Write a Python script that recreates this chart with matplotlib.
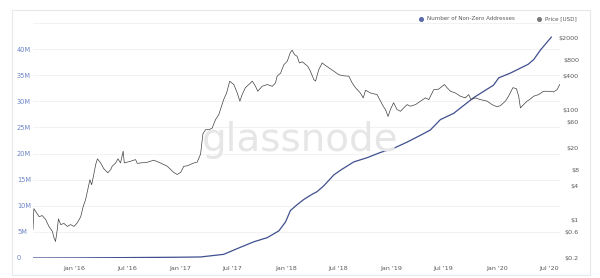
import matplotlib
matplotlib.use("Agg")
import matplotlib.pyplot as plt
import pandas as pd
from matplotlib.lines import Line2D
from matplotlib.patches import Rectangle

# --- data ------------------------------------------------------------------
addr_dates = ["2015-08-10", "2016-01-01", "2016-07-01", "2017-01-01", "2017-03-12",
              "2017-05-31", "2017-07-17", "2017-09-12", "2017-10-29", "2017-12-08",
              "2017-12-31", "2018-01-17", "2018-02-09", "2018-03-04", "2018-04-02",
              "2018-04-19", "2018-05-12", "2018-06-16", "2018-07-09", "2018-08-01",
              "2018-08-24", "2018-10-09", "2018-11-24", "2019-01-09", "2019-02-25",
              "2019-04-12", "2019-05-16", "2019-06-20", "2019-08-05", "2019-10-13",
              "2019-12-21", "2020-01-08", "2020-02-17", "2020-04-19", "2020-05-08",
              "2020-05-31", "2020-07-08"]
addr_millions = [0.0, 0.02, 0.08, 0.15, 0.2,
                 0.7, 1.8, 3.1, 3.9, 5.2,
                 6.9, 9.1, 10.2, 11.2, 12.2,
                 12.7, 13.8, 15.9, 16.8, 17.6,
                 18.4, 19.2, 20.2, 21.0, 22.2,
                 23.5, 24.5, 26.5, 27.7, 30.7,
                 33.1, 34.5, 35.4, 37.1, 38.0,
                 39.8, 42.3]

price_dates = ["2015-08-10", "2015-08-13", "2015-08-31", "2015-09-11", "2015-09-23",
               "2015-10-04", "2015-10-16", "2015-10-21", "2015-10-27", "2015-11-02",
               "2015-11-06", "2015-11-14", "2015-11-25", "2015-12-07", "2015-12-18",
               "2015-12-30", "2016-01-10", "2016-01-22", "2016-01-31", "2016-02-08",
               "2016-02-17", "2016-02-23", "2016-02-29", "2016-03-06", "2016-03-14",
               "2016-03-20", "2016-03-31", "2016-04-11", "2016-04-25", "2016-05-05",
               "2016-05-10", "2016-05-22", "2016-05-30", "2016-06-08", "2016-06-17",
               "2016-06-21", "2016-07-13", "2016-07-30", "2016-08-05", "2016-08-16",
               "2016-09-08", "2016-10-01", "2016-10-24", "2016-11-17", "2016-12-09",
               "2016-12-21", "2017-01-02", "2017-01-13", "2017-01-25", "2017-02-17",
               "2017-02-28", "2017-03-12", "2017-03-20", "2017-03-29", "2017-04-10",
               "2017-04-21", "2017-05-03", "2017-05-14", "2017-05-31", "2017-06-10",
               "2017-06-21", "2017-07-05", "2017-07-17", "2017-07-26", "2017-08-03",
               "2017-08-14", "2017-08-26", "2017-09-07", "2017-09-18", "2017-09-26",
               "2017-10-11", "2017-10-29", "2017-11-15", "2017-11-26", "2017-12-02",
               "2017-12-14", "2017-12-25", "2018-01-06", "2018-01-17", "2018-01-23",
               "2018-01-31", "2018-02-09", "2018-02-17", "2018-02-27", "2018-03-18",
               "2018-03-27", "2018-04-08", "2018-04-14", "2018-04-25", "2018-05-07",
               "2018-05-15", "2018-05-30", "2018-06-16", "2018-07-03", "2018-07-21",
               "2018-08-07", "2018-08-19", "2018-08-30", "2018-09-16", "2018-09-26",
               "2018-10-04", "2018-10-21", "2018-11-13", "2018-12-04", "2018-12-12",
               "2018-12-21", "2018-12-29", "2019-01-09", "2019-01-21", "2019-02-02",
               "2019-02-13", "2019-02-25", "2019-03-08", "2019-03-26", "2019-04-12",
               "2019-04-29", "2019-05-11", "2019-05-28", "2019-06-14", "2019-07-04",
               "2019-07-13", "2019-07-25", "2019-08-11", "2019-08-28", "2019-09-14",
               "2019-09-26", "2019-10-04", "2019-10-19", "2019-11-05", "2019-11-29",
               "2019-12-16", "2020-01-02", "2020-01-14", "2020-01-31", "2020-02-11",
               "2020-02-26", "2020-03-09", "2020-03-17", "2020-03-23", "2020-04-03",
               "2020-04-15", "2020-04-26", "2020-05-08", "2020-05-25", "2020-06-11",
               "2020-06-29", "2020-07-16", "2020-07-28", "2020-08-06"]
price_usd = [0.66, 1.58, 1.13, 1.18, 1.0,
             0.75, 0.61, 0.48, 0.40, 0.66,
             1.03, 0.81, 0.85, 0.75, 0.81,
             0.75, 0.87, 1.12, 1.75, 2.3,
             3.8, 5.3, 4.3, 6.1, 10.0,
             12.7, 10.7, 8.4, 7.1, 8.1,
             9.3, 10.7, 12.7, 10.7, 17.5,
             10.7, 11.5, 12.3, 10.5, 10.7,
             11.0, 12.0, 10.7, 9.3, 7.2,
             6.6, 7.2, 9.3, 9.5, 10.7,
             11.0, 15.5, 36.0, 43.0, 43.0,
             46.0, 66.0, 81.0, 152.0, 200.0,
             328.0, 285.0, 200.0, 142.0, 187.0,
             250.0, 285.0, 328.0, 265.0, 215.0,
             265.0, 285.0, 265.0, 303.0, 405.0,
             460.0, 650.0, 755.0, 1100.0, 1200.0,
             1000.0, 930.0, 705.0, 740.0, 610.0,
             500.0, 350.0, 330.0, 530.0, 705.0,
             650.0, 575.0, 500.0, 430.0, 410.0,
             405.0, 303.0, 250.0, 200.0, 163.0,
             225.0, 200.0, 187.0, 115.0, 100.0,
             75.0, 100.0, 133.0, 100.0, 93.0,
             107.0, 123.0, 115.0, 123.0, 142.0,
             163.0, 152.0, 230.0, 235.0, 285.0,
             250.0, 215.0, 200.0, 175.0, 163.0,
             187.0, 152.0, 163.0, 152.0, 142.0,
             123.0, 112.0, 118.0, 142.0, 175.0,
             250.0, 240.0, 175.0, 107.0, 123.0,
             142.0, 155.0, 175.0, 187.0, 215.0,
             215.0, 210.0, 230.0, 285.0]

left_ticks = [0, 5, 10, 15, 20, 25, 30, 35, 40]
left_labels = ["0", "5M", "10M", "15M", "20M", "25M", "30M", "35M", "40M"]
grid_levels = [0, 5, 10, 15, 20, 25, 30, 35, 40, 45]

right_ticks = [0.2, 0.6, 1, 4, 8, 20, 60, 100, 400, 800, 2000]
right_labels = ["$0.2", "$0.6", "$1", "$4", "$8", "$20", "$60", "$100", "$400", "$800", "$2000"]

x_tick_dates = ["2016-01-01", "2016-07-01", "2017-01-01", "2017-07-01", "2018-01-01",
                "2018-07-01", "2019-01-01", "2019-07-01", "2020-01-01", "2020-07-01"]
x_tick_labels = ["Jan '16", "Jul '16", "Jan '17", "Jul '17", "Jan '18",
                 "Jul '18", "Jan '19", "Jul '19", "Jan '20", "Jul '20"]

ADDR_COLOR  = "#40508f"
PRICE_COLOR = "#404040"
LEFT_LABEL  = "#6f86c8"
TEXT_GREY   = "#5a5a5a"

# --- figure -----------------------------------------------------------------
W, H = 600, 278
PX = 72 / 100  # points per pixel at dpi 100
fig = plt.figure(figsize=(W / 100, H / 100), dpi=100)
fig.patch.set_facecolor("white")

# outer card border
fig.patches.append(Rectangle((12 / W, 3 / H), 578 / W, 265 / H, transform=fig.transFigure,
                             fill=False, edgecolor="#e8e8e8", lw=0.8))

ax = fig.add_axes([33 / W, (H - 258) / H, 527 / W, 235 / H])
ax2 = ax.twinx()

# watermark
fig.text(300 / W, 1 - 140 / H, "glassnode", ha="center", va="center",
         fontsize=28, color="#e6e6e6", zorder=0)

for lvl in grid_levels:
    ax.axhline(lvl, color="#f0f0f0", lw=0.6, zorder=0)

ax.plot(pd.to_datetime(addr_dates), addr_millions, color=ADDR_COLOR, lw=0.9, zorder=3)
ax2.plot(pd.to_datetime(price_dates), price_usd, color=PRICE_COLOR, lw=0.5, zorder=3)

ax.set_xlim(pd.Timestamp("2015-08-10"), pd.Timestamp("2020-08-07"))
ax.set_ylim(0, 45)
ax2.set_yscale("log")
ax2.set_ylim(0.2, 10 ** (3.301 + (38 - 23) / 55))

ax.set_xticks(pd.to_datetime(x_tick_dates))
ax.set_xticklabels(x_tick_labels)
ax.set_yticks(left_ticks)
ax.set_yticklabels(left_labels)
ax2.set_yticks(right_ticks)
ax2.set_yticklabels(right_labels)
ax2.minorticks_off()

ax.tick_params(axis="x", length=0, pad=6, labelsize=4.6, labelcolor=TEXT_GREY)
ax.tick_params(axis="y", length=0, pad=16 * PX, labelsize=4.8, labelcolor=LEFT_LABEL)
for lab in ax.get_yticklabels():
    lab.set_horizontalalignment("left")
ax2.tick_params(axis="y", length=0, pad=19 * PX, labelsize=4.6, labelcolor=TEXT_GREY)
for lab in ax2.get_yticklabels():
    lab.set_horizontalalignment("right")

for a in (ax, ax2):
    for s in a.spines.values():
        s.set_visible(False)
ax.patch.set_alpha(0)

handles = [Line2D([], [], ls="none", marker="o", ms=2.6, color="#5a6aa8"),
           Line2D([], [], ls="none", marker="o", ms=2.6, color="#7a7a7a")]
fig.legend(handles, ["Number of Non-Zero Addresses", "Price [USD]"],
           loc="center right", bbox_to_anchor=(582 / W, 1 - 19 / H), ncol=2,
           frameon=False, fontsize=4.1, handletextpad=0.1, columnspacing=3.2,
           labelcolor=TEXT_GREY)

fig.savefig("out.png", dpi=100)
